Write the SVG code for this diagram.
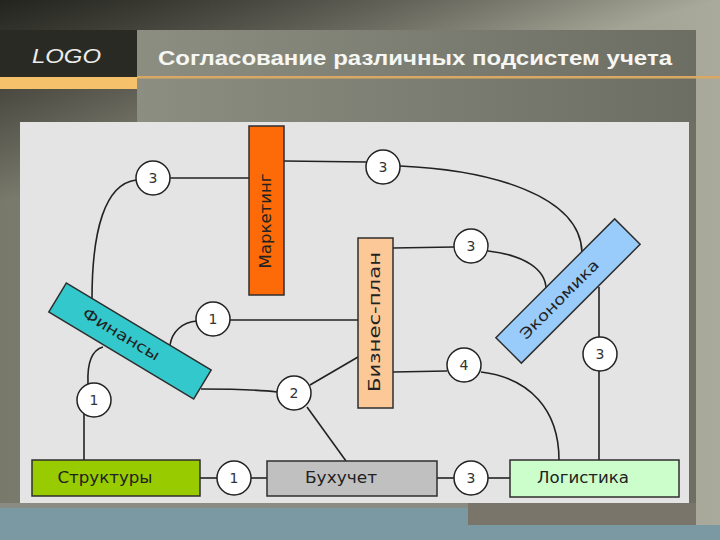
<svg xmlns="http://www.w3.org/2000/svg" width="720" height="540" viewBox="0 0 720 540">
<defs>
<linearGradient id="bgH" x1="0" y1="0" x2="720" y2="0" gradientUnits="userSpaceOnUse">
<stop offset="0" stop-color="#78786b"/><stop offset="1" stop-color="#aaaa9c"/>
</linearGradient>
<linearGradient id="bgDark" x1="0" y1="0" x2="53" y2="188" gradientUnits="userSpaceOnUse">
<stop offset="0" stop-color="#24241f" stop-opacity="1"/><stop offset="1" stop-color="#24241f" stop-opacity="0"/>
</linearGradient>
<linearGradient id="bar" x1="137" y1="0" x2="696" y2="0" gradientUnits="userSpaceOnUse">
<stop offset="0" stop-color="#8c8e82"/><stop offset="1" stop-color="#6c6e63"/>
</linearGradient>
<style>
.ln{fill:none;stroke:#222;stroke-width:1.6}
.bx{stroke:#2e2e2e;stroke-width:1.5}
.bd circle{fill:#fff;stroke:#222;stroke-width:1.5}
.bd text{font-family:"DejaVu Sans",sans-serif;font-size:14px;fill:#333;text-anchor:middle}
.lb{font-family:"DejaVu Sans",sans-serif;font-size:15px;fill:#222;text-anchor:middle}
</style>
</defs>
<!-- background -->
<rect x="0" y="0" width="720" height="540" fill="url(#bgH)"/>
<rect x="0" y="0" width="720" height="540" fill="url(#bgDark)"/>
<rect x="0" y="30" width="137" height="48" fill="#2a2a25"/>
<rect x="137" y="30" width="559" height="495" fill="url(#bar)"/>
<rect x="0" y="77" width="137" height="12" fill="#f5c26b"/>
<rect x="137" y="76" width="583" height="2.5" fill="#d9a862"/>
<text x="32" y="63" font-family="Liberation Sans, Arial, sans-serif" font-style="italic" font-size="21" fill="#ececea" textLength="69" lengthAdjust="spacingAndGlyphs">LOGO</text>
<text x="158" y="65" font-family="Liberation Sans, Arial, sans-serif" font-weight="bold" font-size="20" fill="#f6f6f2" textLength="514" lengthAdjust="spacingAndGlyphs">Согласование различных подсистем учета</text>
<rect x="689" y="122" width="7" height="403" fill="#6e6e62"/>
<rect x="468" y="503" width="228" height="22" fill="#79756a"/>
<rect x="0" y="503" width="468" height="5" fill="#8a8c84"/>
<rect x="0" y="508" width="468" height="32" fill="#7b99a2"/>
<rect x="468" y="525" width="252" height="15" fill="#7b99a2"/>
<!-- panel -->
<rect x="20" y="122" width="669" height="381" fill="#e4e4e4"/>

<g id="connectors">
<path class="ln" d="M170,178 L249,178"/>
<path class="ln" d="M136,180 C105,184 92,230 92,299"/>
<path class="ln" d="M284,161 L367,162"/>
<path class="ln" d="M400,166 C490,170 580,195 582,252"/>
<path class="ln" d="M393,248 L454,247"/>
<path class="ln" d="M488,251 C525,255 546,270 546,289"/>
<path class="ln" d="M599,287 L599,337"/>
<path class="ln" d="M599,371 L599,460"/>
<path class="ln" d="M393,372 L447,371"/>
<path class="ln" d="M481,372 C530,378 559,410 559,460"/>
<path class="ln" d="M437,478 L454,478"/>
<path class="ln" d="M488,478 L510,478"/>
<path class="ln" d="M200,478 L217,478"/>
<path class="ln" d="M251,478 L267,478"/>
<path class="ln" d="M84,414 L84,460"/>
<path class="ln" d="M88,384 C87,362 92,350 103,347"/>
<path class="ln" d="M197,321 C182,322 172,332 170,345"/>
<path class="ln" d="M230,320 L358,320"/>
<path class="ln" d="M201,389 C240,389 262,390 277,392"/>
<path class="ln" d="M310,385 L358,357"/>
<path class="ln" d="M307,407 L346,461"/>
</g>

<g id="marketing">
<rect class="bx" x="249" y="126" width="35" height="169" fill="#fd6a08"/>
<text class="lb" transform="translate(271,221) rotate(-90)" fill="#2a1408" textLength="95" lengthAdjust="spacingAndGlyphs">Маркетинг</text>
</g>
<g id="biznes-plan">
<rect class="bx" x="358" y="238" width="35" height="170" fill="#fdc897"/>
<text class="lb" transform="translate(380,322) rotate(-90)" textLength="140" lengthAdjust="spacingAndGlyphs">Бизнес-план</text>
</g>
<g id="ekonomika" transform="translate(568,291) rotate(-45)">
<rect class="bx" x="-84" y="-18" width="168" height="36" fill="#9accfb"/>
<text class="lb" x="-12" y="5" fill="#0b2a55" textLength="105" lengthAdjust="spacingAndGlyphs">Экономика</text>
</g>
<g id="finansy" transform="translate(130,341) rotate(31)">
<rect class="bx" x="-84.5" y="-17" width="169" height="34" fill="#33c8cc"/>
<text class="lb" x="-11" y="4" fill="#0a2f33" textLength="87" lengthAdjust="spacingAndGlyphs">Финансы</text>
</g>
<g id="struktury">
<rect class="bx" x="32" y="460" width="168" height="36" fill="#99cc00"/>
<text class="lb" x="105" y="483" textLength="95" lengthAdjust="spacingAndGlyphs">Структуры</text>
</g>
<g id="buhuchet">
<rect class="bx" x="267" y="461" width="170" height="35" fill="#c0c0c0"/>
<text class="lb" x="341" y="483" textLength="72" lengthAdjust="spacingAndGlyphs">Бухучет</text>
</g>
<g id="logistika">
<rect class="bx" x="510" y="460" width="169" height="37" fill="#ccfecc"/>
<text class="lb" x="583" y="483" textLength="92" lengthAdjust="spacingAndGlyphs">Логистика</text>
</g>

<g id="badge-fin-mark" class="bd"><circle cx="153" cy="178" r="17"/><text x="153" y="183">3</text></g>
<g id="badge-mark-ekon" class="bd"><circle cx="383" cy="167" r="17"/><text x="383" y="172">3</text></g>
<g id="badge-biz-ekon" class="bd"><circle cx="471" cy="246" r="17"/><text x="471" y="251">3</text></g>
<g id="badge-ekon-log" class="bd"><circle cx="600" cy="354" r="17"/><text x="600" y="359">3</text></g>
<g id="badge-biz-log" class="bd"><circle cx="464" cy="365" r="17"/><text x="464" y="370">4</text></g>
<g id="badge-buh-log" class="bd"><circle cx="471" cy="478" r="17"/><text x="471" y="483">3</text></g>
<g id="badge-str-buh" class="bd"><circle cx="234" cy="478" r="17"/><text x="234" y="483">1</text></g>
<g id="badge-fin-str" class="bd"><circle cx="94" cy="400" r="17"/><text x="94" y="405">1</text></g>
<g id="badge-fin-biz" class="bd"><circle cx="213" cy="319" r="17"/><text x="213" y="324">1</text></g>
<g id="badge-fin-buh" class="bd"><circle cx="294" cy="393" r="17"/><text x="294" y="398">2</text></g>
</svg>
